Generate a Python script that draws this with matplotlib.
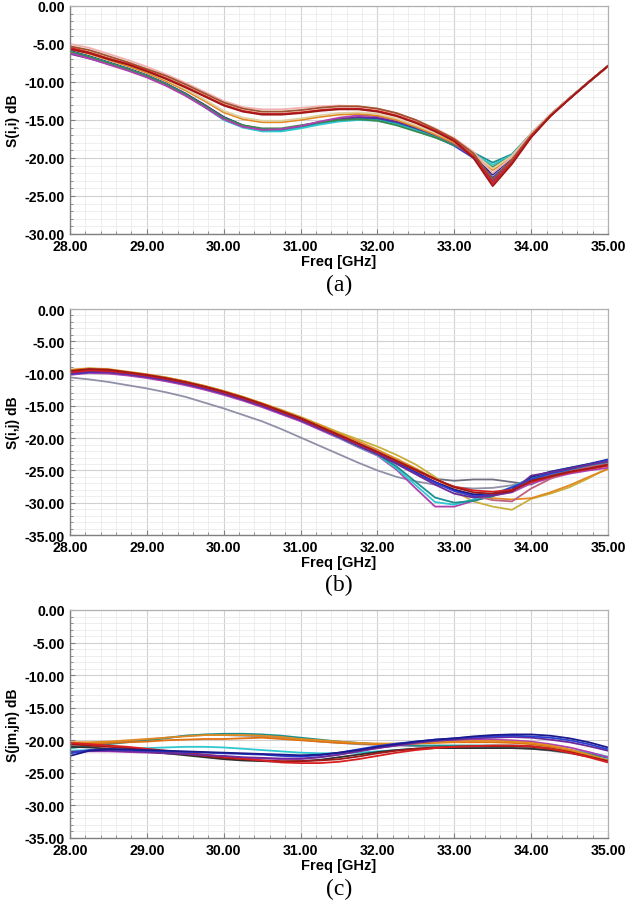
import matplotlib
matplotlib.use("Agg")
import matplotlib.pyplot as plt
from matplotlib.ticker import MultipleLocator, FormatStrFormatter

# ---------------- data ----------------
freq_ghz = [28.00, 28.25, 28.50, 28.75, 29.00, 29.25, 29.50, 29.75, 30.00, 30.25,
            30.50, 30.75, 31.00, 31.25, 31.50, 31.75, 32.00, 32.25, 32.50, 32.75,
            33.00, 33.25, 33.50, 33.75, 34.00, 34.25, 34.50, 34.75, 35.00]
x_ticks = [28.0, 29.0, 30.0, 31.0, 32.0, 33.0, 34.0, 35.0]
a_y_ticks = [0, -5, -10, -15, -20, -25, -30]
bc_y_ticks = [0, -5, -10, -15, -20, -25, -30, -35]
y_labels = ["S(i,i) dB", "S(i,j) dB", "S(jm,jn) dB"]
x_label = "Freq [GHz]"
panel_tags = ["(a)", "(b)", "(c)"]

# panel (a)  S(i,i)
a_navy = [-5.9, -6.6, -7.4, -8.2, -9.1, -10.2, -11.5, -13.0, -14.6, -15.7, -16.2, -16.2, -15.8, -15.3, -14.9, -14.7, -14.8, -15.3, -16.1, -17.1, -18.3, -19.8, -22.2, -20.0, -16.9, -14.3, -12.1, -10.0, -7.9]
a_blue = [-6.1, -6.8, -7.6, -8.4, -9.3, -10.4, -11.7, -13.2, -14.8, -15.9, -16.3, -16.3, -15.9, -15.4, -15.0, -14.8, -14.9, -15.4, -16.2, -17.2, -18.4, -20.0, -22.6, -20.3, -17.1, -14.4, -12.2, -10.0, -7.9]
a_purple = [-6.3, -6.9, -7.6, -8.3, -9.2, -10.3, -11.6, -13.1, -14.7, -15.8, -16.3, -16.2, -15.8, -15.3, -14.9, -14.6, -14.7, -15.2, -16.0, -17.0, -18.2, -19.9, -23.0, -20.4, -17.1, -14.4, -12.2, -10.0, -7.9]
a_teal = [-6.0, -6.7, -7.5, -8.3, -9.2, -10.3, -11.6, -13.2, -14.9, -15.9, -16.4, -16.4, -16.0, -15.5, -15.1, -14.9, -15.0, -15.5, -16.3, -17.2, -18.2, -19.3, -20.6, -19.5, -16.8, -14.3, -12.1, -10.0, -7.9]
a_cyan = [-6.0, -6.7, -7.5, -8.3, -9.2, -10.3, -11.7, -13.3, -15.0, -16.0, -16.5, -16.5, -16.1, -15.6, -15.2, -15.0, -15.1, -15.6, -16.4, -17.3, -18.3, -19.5, -20.9, -19.6, -16.9, -14.4, -12.1, -10.0, -7.9]
a_green = [-6.0, -6.7, -7.5, -8.3, -9.2, -10.3, -11.6, -13.1, -14.7, -15.7, -16.1, -16.1, -15.7, -15.3, -15.0, -14.9, -15.1, -15.7, -16.5, -17.3, -18.3, -19.6, -21.2, -19.7, -16.8, -14.3, -12.1, -10.0, -7.9]
a_magenta = [-6.2, -6.9, -7.7, -8.5, -9.4, -10.5, -11.8, -13.3, -14.9, -15.9, -16.3, -16.2, -15.8, -15.2, -14.7, -14.4, -14.5, -15.0, -15.9, -16.9, -18.1, -19.9, -23.4, -20.5, -17.2, -14.5, -12.2, -10.0, -7.9]
a_orange = [-5.6, -6.3, -7.1, -7.9, -8.8, -9.9, -11.1, -12.5, -14.0, -14.9, -15.3, -15.3, -15.0, -14.6, -14.3, -14.2, -14.4, -15.0, -15.9, -16.9, -18.0, -19.6, -21.6, -19.9, -16.9, -14.3, -12.1, -10.0, -7.9]
a_tan = [-5.4, -6.1, -6.9, -7.7, -8.6, -9.7, -10.9, -12.3, -13.8, -14.7, -15.1, -15.1, -14.8, -14.4, -14.1, -14.0, -14.2, -14.8, -15.7, -16.7, -17.8, -19.4, -21.4, -19.7, -16.8, -14.3, -12.1, -10.0, -7.9]
a_pink = [-5.0, -5.5, -6.3, -7.1, -8.0, -9.0, -10.1, -11.3, -12.5, -13.3, -13.6, -13.6, -13.4, -13.2, -13.1, -13.2, -13.5, -14.1, -15.0, -16.1, -17.4, -19.2, -22.0, -19.9, -16.8, -14.3, -12.1, -10.0, -7.9]
a_brown = [-5.3, -5.8, -6.6, -7.4, -8.3, -9.2, -10.3, -11.5, -12.7, -13.5, -13.9, -13.9, -13.7, -13.4, -13.2, -13.2, -13.5, -14.1, -15.0, -16.2, -17.5, -19.4, -22.8, -20.2, -17.0, -14.4, -12.2, -10.0, -7.9]
a_red = [-5.5, -6.1, -6.9, -7.6, -8.5, -9.5, -10.6, -11.8, -13.0, -13.8, -14.2, -14.2, -14.0, -13.7, -13.5, -13.5, -13.8, -14.4, -15.3, -16.4, -17.7, -19.8, -23.3, -20.6, -17.2, -14.5, -12.2, -10.0, -7.9]
a_darkred = [-5.7, -6.2, -7.0, -7.7, -8.6, -9.6, -10.7, -11.9, -13.1, -13.9, -14.3, -14.3, -14.1, -13.8, -13.6, -13.6, -13.9, -14.5, -15.4, -16.5, -17.8, -20.0, -23.7, -20.8, -17.3, -14.5, -12.2, -10.0, -7.9]

# panel (b)  S(i,j)
b_gray = [-10.6, -10.9, -11.3, -11.8, -12.3, -12.9, -13.6, -14.5, -15.4, -16.4, -17.4, -18.6, -19.9, -21.2, -22.5, -23.8, -25.0, -26.0, -26.7, -27.2, -27.6, -27.8, -27.7, -27.3, -26.4, -25.7, -25.0, -24.4, -23.8]
b_slate = [-9.9, -9.6, -9.7, -10.0, -10.4, -10.9, -11.5, -12.2, -13.0, -13.9, -14.9, -16.0, -17.1, -18.4, -19.7, -21.0, -22.3, -23.7, -25.0, -26.3, -26.6, -26.4, -26.4, -26.8, -27.2, -25.8, -25.0, -24.4, -23.8]
b_yellow = [-9.5, -9.2, -9.4, -9.8, -10.2, -10.6, -11.2, -11.9, -12.7, -13.6, -14.6, -15.6, -16.7, -17.9, -19.1, -20.2, -21.3, -22.6, -24.1, -26.0, -28.2, -29.8, -30.6, -31.1, -29.4, -28.6, -27.6, -26.2, -24.6]
b_orange = [-9.4, -9.2, -9.3, -9.7, -10.1, -10.6, -11.2, -11.9, -12.7, -13.6, -14.6, -15.7, -16.8, -18.0, -19.3, -20.5, -21.8, -23.2, -24.7, -26.3, -27.9, -28.9, -29.3, -29.5, -29.3, -28.4, -27.3, -26.0, -24.8]
b_magenta = [-10.2, -9.9, -10.0, -10.3, -10.7, -11.2, -11.8, -12.5, -13.3, -14.2, -15.2, -16.3, -17.4, -18.7, -20.0, -21.4, -22.7, -24.9, -27.8, -30.6, -30.6, -29.7, -28.9, -28.4, -27.0, -26.2, -25.5, -25.0, -24.6]
b_cyan = [-9.9, -9.6, -9.7, -10.0, -10.4, -10.9, -11.5, -12.2, -13.0, -13.9, -14.9, -16.0, -17.2, -18.5, -19.9, -21.3, -22.6, -24.7, -27.3, -29.9, -30.3, -29.5, -28.6, -27.6, -26.1, -25.2, -24.6, -24.0, -23.5]
b_teal = [-9.9, -9.6, -9.7, -10.0, -10.4, -10.9, -11.5, -12.2, -13.0, -13.9, -14.9, -16.0, -17.1, -18.4, -19.8, -21.2, -22.5, -24.4, -26.8, -29.2, -30.0, -29.7, -29.0, -27.9, -26.3, -25.4, -24.8, -24.2, -23.7]
b_rose = [-10.0, -9.7, -9.8, -10.1, -10.5, -11.0, -11.6, -12.3, -13.1, -14.0, -15.0, -16.1, -17.2, -18.5, -19.8, -21.1, -22.4, -23.8, -25.3, -26.8, -28.0, -28.9, -29.6, -29.8, -27.8, -26.3, -25.2, -24.5, -24.0]
b_navy = [-9.7, -9.4, -9.5, -9.9, -10.3, -10.8, -11.4, -12.1, -12.9, -13.8, -14.8, -15.9, -17.0, -18.3, -19.7, -21.0, -22.4, -23.8, -25.3, -26.8, -28.0, -28.7, -28.6, -28.0, -26.0, -25.2, -24.6, -24.0, -23.3]
b_blue = [-10.1, -9.8, -9.8, -10.1, -10.5, -11.0, -11.6, -12.3, -13.1, -14.0, -15.0, -16.1, -17.2, -18.5, -19.8, -21.1, -22.4, -23.9, -25.4, -26.9, -28.2, -29.0, -28.8, -27.6, -26.4, -25.5, -24.8, -24.1, -23.4]
b_purple = [-10.0, -9.7, -9.8, -10.1, -10.5, -11.0, -11.6, -12.3, -13.1, -14.0, -15.0, -16.1, -17.2, -18.5, -19.8, -21.2, -22.5, -24.0, -25.6, -27.2, -28.6, -29.2, -28.9, -28.3, -25.8, -25.3, -24.7, -24.1, -23.6]
b_red = [-9.8, -9.5, -9.6, -9.9, -10.3, -10.8, -11.4, -12.1, -12.9, -13.8, -14.8, -15.9, -17.0, -18.3, -19.6, -20.9, -22.2, -23.6, -25.0, -26.4, -27.5, -28.1, -28.3, -28.0, -26.8, -26.0, -25.3, -24.8, -24.3]
b_darkred = [-9.6, -9.3, -9.4, -9.8, -10.2, -10.7, -11.3, -12.0, -12.8, -13.7, -14.7, -15.8, -16.9, -18.2, -19.5, -20.8, -22.1, -23.5, -24.9, -26.3, -27.6, -28.4, -28.6, -28.2, -26.6, -25.9, -25.2, -24.7, -24.1]

# panel (c)  S(jm,jn)
c_gray = [-20.8, -20.6, -20.4, -20.2, -19.9, -19.6, -19.3, -19.2, -19.2, -19.3, -19.4, -19.6, -19.9, -20.2, -20.4, -20.6, -20.7, -20.8, -20.9, -20.9, -20.9, -20.9, -21.0, -21.1, -21.3, -21.6, -22.0, -22.5, -23.0]
c_cyan = [-21.6, -21.5, -21.4, -21.3, -21.2, -21.1, -21.0, -21.0, -21.1, -21.3, -21.5, -21.7, -21.9, -22.0, -22.0, -21.9, -21.7, -21.5, -21.3, -21.2, -21.1, -21.0, -21.0, -21.0, -21.0, -21.2, -21.5, -21.9, -22.5]
c_teal = [-21.2, -20.9, -20.6, -20.3, -20.0, -19.7, -19.3, -19.1, -19.0, -19.0, -19.1, -19.3, -19.6, -19.9, -20.2, -20.4, -20.6, -20.7, -20.8, -20.8, -20.8, -20.8, -20.8, -20.8, -20.9, -21.2, -21.6, -22.1, -22.7]
c_magenta = [-21.8, -21.7, -21.7, -21.8, -21.9, -22.0, -22.1, -22.3, -22.5, -22.7, -22.8, -22.9, -22.9, -22.6, -22.2, -21.7, -21.2, -20.8, -20.5, -20.2, -20.0, -19.9, -19.9, -20.0, -20.2, -20.6, -21.1, -21.8, -22.6]
c_black = [-21.0, -21.1, -21.3, -21.5, -21.7, -22.0, -22.3, -22.6, -22.9, -23.1, -23.2, -23.3, -23.2, -23.0, -22.6, -22.2, -21.8, -21.5, -21.3, -21.2, -21.2, -21.2, -21.2, -21.2, -21.3, -21.5, -21.9, -22.5, -23.1]
c_darkorange = [-20.5, -20.5, -20.4, -20.3, -20.2, -20.0, -19.9, -19.8, -19.8, -19.7, -19.6, -19.8, -20.0, -20.2, -20.4, -20.5, -20.6, -20.6, -20.5, -20.4, -20.3, -20.3, -20.3, -20.4, -20.6, -21.0, -21.6, -22.4, -23.3]
c_orange = [-20.3, -20.3, -20.2, -20.0, -19.8, -19.6, -19.4, -19.2, -19.2, -19.2, -19.3, -19.5, -19.8, -20.0, -20.2, -20.4, -20.5, -20.5, -20.4, -20.3, -20.2, -20.1, -20.1, -20.2, -20.4, -20.8, -21.4, -22.2, -23.1]
c_darkred = [-20.6, -20.8, -21.0, -21.2, -21.5, -21.8, -22.1, -22.4, -22.7, -22.9, -23.1, -23.2, -23.2, -23.1, -22.9, -22.5, -22.0, -21.6, -21.3, -21.1, -21.0, -20.9, -20.9, -20.9, -21.0, -21.3, -21.8, -22.5, -23.2]
c_red = [-20.4, -20.6, -20.8, -21.0, -21.3, -21.6, -21.9, -22.2, -22.5, -22.8, -23.1, -23.4, -23.5, -23.5, -23.3, -22.9, -22.4, -21.9, -21.5, -21.2, -21.0, -20.9, -20.8, -20.8, -20.9, -21.3, -21.9, -22.6, -23.4]
c_purple = [-21.8, -21.6, -21.6, -21.7, -21.8, -22.0, -22.1, -22.3, -22.4, -22.6, -22.7, -22.8, -22.8, -22.6, -22.2, -21.7, -21.2, -20.8, -20.4, -20.1, -19.9, -19.7, -19.6, -19.5, -19.6, -19.9, -20.3, -20.9, -21.6]
c_blue = [-22.0, -21.5, -21.4, -21.5, -21.6, -21.7, -21.8, -21.9, -22.0, -22.1, -22.2, -22.4, -22.5, -22.3, -21.9, -21.4, -20.9, -20.5, -20.2, -19.9, -19.7, -19.5, -19.4, -19.3, -19.4, -19.6, -20.0, -20.6, -21.4]
c_navy = [-22.4, -21.6, -21.4, -21.4, -21.5, -21.6, -21.7, -21.8, -21.9, -22.0, -22.1, -22.2, -22.3, -22.2, -21.9, -21.5, -21.0, -20.6, -20.2, -19.9, -19.7, -19.4, -19.2, -19.1, -19.1, -19.3, -19.7, -20.3, -21.1]

# ---------------- styling ----------------
COL = {
    "navy": "#1a1a8c", "blue": "#2b3fd0", "purple": "#6a2a9a", "teal": "#1a9090",
    "cyan": "#30c8d0", "green": "#3a8a50", "magenta": "#b040b0", "orange": "#e08a20",
    "tan": "#e0cfa0", "pink": "#f0b0b0", "brown": "#a0522d", "red": "#d82020",
    "darkred": "#a01818", "gray": "#9090a8", "slate": "#707080", "yellow": "#c8b040",
    "rose": "#c06080", "black": "#303030", "darkorange": "#e07010",
}

panel_a = [(a_navy, "navy"), (a_blue, "blue"), (a_purple, "purple"), (a_teal, "teal"),
           (a_cyan, "cyan"), (a_green, "green"), (a_magenta, "magenta"), (a_orange, "orange"),
           (a_tan, "tan"), (a_pink, "pink"), (a_brown, "brown"), (a_red, "red"),
           (a_darkred, "darkred")]
panel_b = [(b_gray, "gray"), (b_slate, "slate"), (b_yellow, "yellow"), (b_orange, "orange"),
           (b_magenta, "magenta"), (b_cyan, "cyan"), (b_teal, "teal"), (b_rose, "rose"),
           (b_navy, "navy"), (b_blue, "blue"), (b_purple, "purple"), (b_red, "red"),
           (b_darkred, "darkred")]
panel_c = [(c_gray, "gray"), (c_cyan, "cyan"), (c_teal, "teal"), (c_magenta, "magenta"),
           (c_black, "black"), (c_darkorange, "darkorange"), (c_orange, "orange"),
           (c_darkred, "darkred"), (c_red, "red"), (c_purple, "purple"), (c_blue, "blue"),
           (c_navy, "navy")]

plt.rcParams["font.family"] = ["Liberation Sans", "DejaVu Sans"]

W, H = 627, 904
fig = plt.figure(figsize=(W / 100, H / 100), dpi=100)

# axes boxes in pixels: (top, bottom)
boxes = [(7, 235), (310, 536), (611, 839)]
left_px, right_px = 70, 608
tag_y = [285, 585, 889]
ylims = [(-30, 0), (-35, 0), (-35, 0)]
yticks_list = [a_y_ticks, bc_y_ticks, bc_y_ticks]
panels = [panel_a, panel_b, panel_c]

for i, (top, bot) in enumerate(boxes):
    hpx = bot - top
    ax = fig.add_axes([left_px / W, 1 - bot / H, (right_px - left_px) / W, hpx / H])
    for series, cname in panels[i]:
        ax.plot(freq_ghz, series, color=COL[cname], lw=1.3, solid_joinstyle="round")
    ax.set_xlim(28, 35)
    ax.set_ylim(*ylims[i])
    ax.set_xticks(x_ticks)
    ax.set_yticks(yticks_list[i])
    ax.xaxis.set_minor_locator(MultipleLocator(0.2))
    ax.yaxis.set_minor_locator(MultipleLocator(1))
    ax.xaxis.set_major_formatter(FormatStrFormatter("%.2f"))
    ax.yaxis.set_major_formatter(FormatStrFormatter("%.2f"))
    ax.grid(which="major", color="#d0d0d0", lw=0.8)
    ax.grid(which="minor", color="#ebebeb", lw=0.6)
    ax.set_axisbelow(True)
    ax.tick_params(which="both", direction="in", colors="#808080", labelcolor="black")
    ax.tick_params(which="major", length=3.5, width=0.8)
    ax.tick_params(which="minor", length=2, width=0.6)
    ax.tick_params(axis="x", which="major", pad=3.5)
    ax.tick_params(axis="y", which="major", pad=3.5)
    for lab in ax.get_xticklabels() + ax.get_yticklabels():
        lab.set_fontweight("bold")
        lab.set_fontsize(10.2)
    for side in ["left", "bottom"]:
        ax.spines[side].set_color("#808080")
        ax.spines[side].set_linewidth(1.0)
    for side in ["top", "right"]:
        ax.spines[side].set_color("#b0b0b0")
        ax.spines[side].set_linewidth(0.9)
    ax.set_ylabel(y_labels[i], fontsize=10, fontweight="bold")
    ax.yaxis.set_label_coords(-(left_px - 20) / (right_px - left_px), 0.5)
    ax.set_xlabel(x_label, fontsize=10.5, fontweight="bold")
    ax.xaxis.set_label_coords(0.5, -20.0 / hpx)
    ax.xaxis.label.set_va("top")
    fig.text(0.5 * (left_px + right_px) / W, 1 - tag_y[i] / H, panel_tags[i],
             family=["Liberation Serif", "DejaVu Serif"], fontsize=17,
             ha="center", va="center")

fig.savefig("out.png", dpi=100)
